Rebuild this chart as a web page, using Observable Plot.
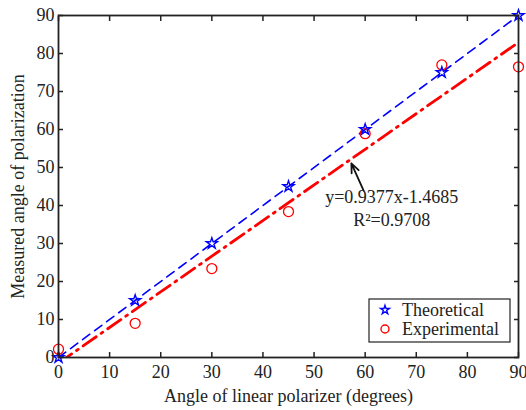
<!DOCTYPE html>
<html><head><meta charset="utf-8">
<script src="https://cdn.jsdelivr.net/npm/d3@7"></script>
<script src="https://cdn.jsdelivr.net/npm/@observablehq/plot@0.6"></script>
<style>body{margin:0;background:#fff}</style>
</head><body><div id="chart"></div>
<script>
const angles = [0, 15, 30, 45, 60, 75, 90];
const theoretical = [0, 15, 30, 45, 60, 75, 90];
const experimental = [2.2, 9.0, 23.4, 38.4, 58.9, 77.0, 76.5];
const fitX = [0, 90];
const fitY = [-1.4685, 82.9245];
const xTicks = [0, 10, 20, 30, 40, 50, 60, 70, 80, 90];
const yTicks = [0, 10, 20, 30, 40, 50, 60, 70, 80, 90];
const equationLines = ["y=0.9377x-1.4685", "R\u00b2=0.9708"];
const equationX = [65.2, 65.2];
const equationY = [42.1, 36.0];
const arrowFrom = [59.7, 43.9];
const arrowTo = [57.3, 51.1];
const legendLabels = ["Theoretical", "Experimental"];
const xLabel = "Angle of linear polarizer (degrees)";
const yLabel = "Measured angle of polarization";

const BLUE = "#0000ff", RED = "#ff0000", INK = "#222";
const FONT = "Liberation Serif, Times New Roman, serif";

const theo = angles.map((a, i) => ({x: a, y: theoretical[i]}));
const expt = angles.map((a, i) => ({x: a, y: experimental[i]}));
const fit = fitX.map((a, i) => ({x: a, y: fitY[i]}));

function legendMark(index, scales, values, dims) {
  const g = d3.create("svg:g");
  const right = dims.width - dims.marginRight - 8;
  const bottom = dims.height - dims.marginBottom - 15;
  const w = 141, h = 43, left = right - w, top = bottom - h;
  g.append("rect").attr("x", left).attr("y", top).attr("width", w).attr("height", h)
    .attr("fill", "white").attr("stroke", INK).attr("stroke-width", 1.2);
  legendLabels.forEach((lab, i) => {
    const cy = top + 11 + i * 19;
    const sym = i === 0 ? d3.symbol(d3.symbolStar, 24) : d3.symbol(d3.symbolCircle, 50);
    g.append("path").attr("d", sym()).attr("transform", `translate(${left + 16},${cy})`)
      .attr("fill", "none").attr("stroke", i === 0 ? BLUE : RED).attr("stroke-width", 1.4);
    g.append("text").attr("x", left + 33).attr("y", cy + 6).text(lab)
      .attr("text-anchor", "start")
      .attr("font-family", FONT).attr("font-size", 18).attr("fill", INK);
  });
  return g.node();
}

const chart = Plot.plot({
  width: 526,
  height: 410,
  marginLeft: 58,
  marginRight: 8,
  marginTop: 15,
  marginBottom: 53,
  style: {fontFamily: FONT, fontSize: "18px", color: INK, background: "#fff"},
  x: {domain: [0, 90]},
  y: {domain: [0, 90]},
  marks: [
    Plot.line(fit, {x: "x", y: "y", stroke: RED, strokeWidth: 2.8, strokeDasharray: "16,6,2,6", clip: true}),
    Plot.line(theo, {x: "x", y: "y", stroke: BLUE, strokeWidth: 1.6, strokeDasharray: "9,6"}),
    Plot.dot(expt, {x: "x", y: "y", r: 5, stroke: RED, strokeWidth: 1.3, fill: "none"}),
    Plot.dot(theo, {x: "x", y: "y", r: 3.5, symbol: "star", stroke: BLUE, strokeWidth: 1.4, fill: "none"}),
    Plot.arrow([{x1: arrowFrom[0], y1: arrowFrom[1], x2: arrowTo[0], y2: arrowTo[1]}],
      {x1: "x1", y1: "y1", x2: "x2", y2: "y2", stroke: "#111", strokeWidth: 1.8, headLength: 10, headAngle: 45}),
    Plot.text(equationLines, {x: (d, i) => equationX[i], y: (d, i) => equationY[i], text: d => d,
      fill: INK, fontSize: 18, textAnchor: "middle"}),
    Plot.axisX(xTicks, {anchor: "bottom", tickSize: 0, tickPadding: 8, label: xLabel, labelAnchor: "center", labelOffset: 44, labelArrow: "none"}),
    Plot.axisX(xTicks, {anchor: "bottom", tickSize: -5, fill: "none", label: null, strokeWidth: 1.5}),
    Plot.axisX(xTicks, {anchor: "top", tickSize: -5, fill: "none", label: null, strokeWidth: 1.5}),
    Plot.axisY(yTicks, {anchor: "left", tickSize: 0, tickPadding: 4, label: yLabel, labelAnchor: "center", labelOffset: 47, labelArrow: "none"}),
    Plot.axisY(yTicks, {anchor: "left", tickSize: -5, fill: "none", label: null, strokeWidth: 1.5}),
    Plot.axisY(yTicks, {anchor: "right", tickSize: -5, fill: "none", label: null, strokeWidth: 1.5}),
    legendMark,
    Plot.frame({stroke: INK, strokeWidth: 1.8})
  ]
});
document.getElementById("chart").appendChild(chart);
</script>
</body></html>
